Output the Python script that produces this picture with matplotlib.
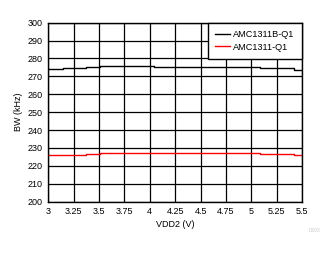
import matplotlib
matplotlib.use("Agg")
import matplotlib.pyplot as plt

# step data (x where each level starts)
vdd2_b = [3.0, 3.15, 3.37, 3.51, 4.04, 5.08, 5.42, 5.5]
bw_b = [274.1, 274.8, 275.4, 275.9, 275.4, 274.7, 273.6, 273.6]
vdd2_r = [3.0, 3.37, 3.51, 5.08, 5.42, 5.5]
bw_r = [226.3, 226.9, 227.4, 226.9, 225.8, 225.8]

xticks = [3, 3.25, 3.5, 3.75, 4, 4.25, 4.5, 4.75, 5, 5.25, 5.5]
xlabels = ["3", "3.25", "3.5", "3.75", "4", "4.25", "4.5", "4.75", "5", "5.25", "5.5"]
yticks = list(range(200, 301, 10))

plt.rcParams['font.family'] = ['Liberation Sans', 'DejaVu Sans']
fig = plt.figure(figsize=(3.35, 2.54), dpi=100)
ax = fig.add_axes([0.144, 0.206, 0.758, 0.705])

ax.plot(vdd2_b, bw_b, color='black', lw=1, drawstyle='steps-post', label='AMC1311B-Q1')
ax.plot(vdd2_r, bw_r, color='red', lw=1, drawstyle='steps-post', label='AMC1311-Q1')

ax.set_xlim(3, 5.5)
ax.set_ylim(200, 300)
ax.set_xticks(xticks)
ax.set_xticklabels(xlabels)
ax.set_yticks(yticks)
ax.grid(True, color='black', lw=0.9)
ax.set_axisbelow(True)
ax.tick_params(length=0, labelsize=6.5, pad=4)
for s in ax.spines.values():
    s.set_color('black')
    s.set_linewidth(1)

ax.set_xlabel('VDD2 (V)', fontsize=6.5, labelpad=3)
ax.set_ylabel('BW (kHz)', fontsize=6.5, labelpad=3)

leg = ax.legend(loc='upper right', fontsize=6.6, frameon=True, fancybox=False,
                borderaxespad=0, handlelength=1.6, handletextpad=0.4,
                borderpad=0.8, labelspacing=0.4)
leg.get_frame().set_edgecolor('black')
leg.get_frame().set_linewidth(1)
leg.get_frame().set_alpha(1)

fig.text(0.955, 0.085, 'D003', fontsize=3.5, color='#cccccc', ha='right')

fig.savefig('out.png', dpi=100)
